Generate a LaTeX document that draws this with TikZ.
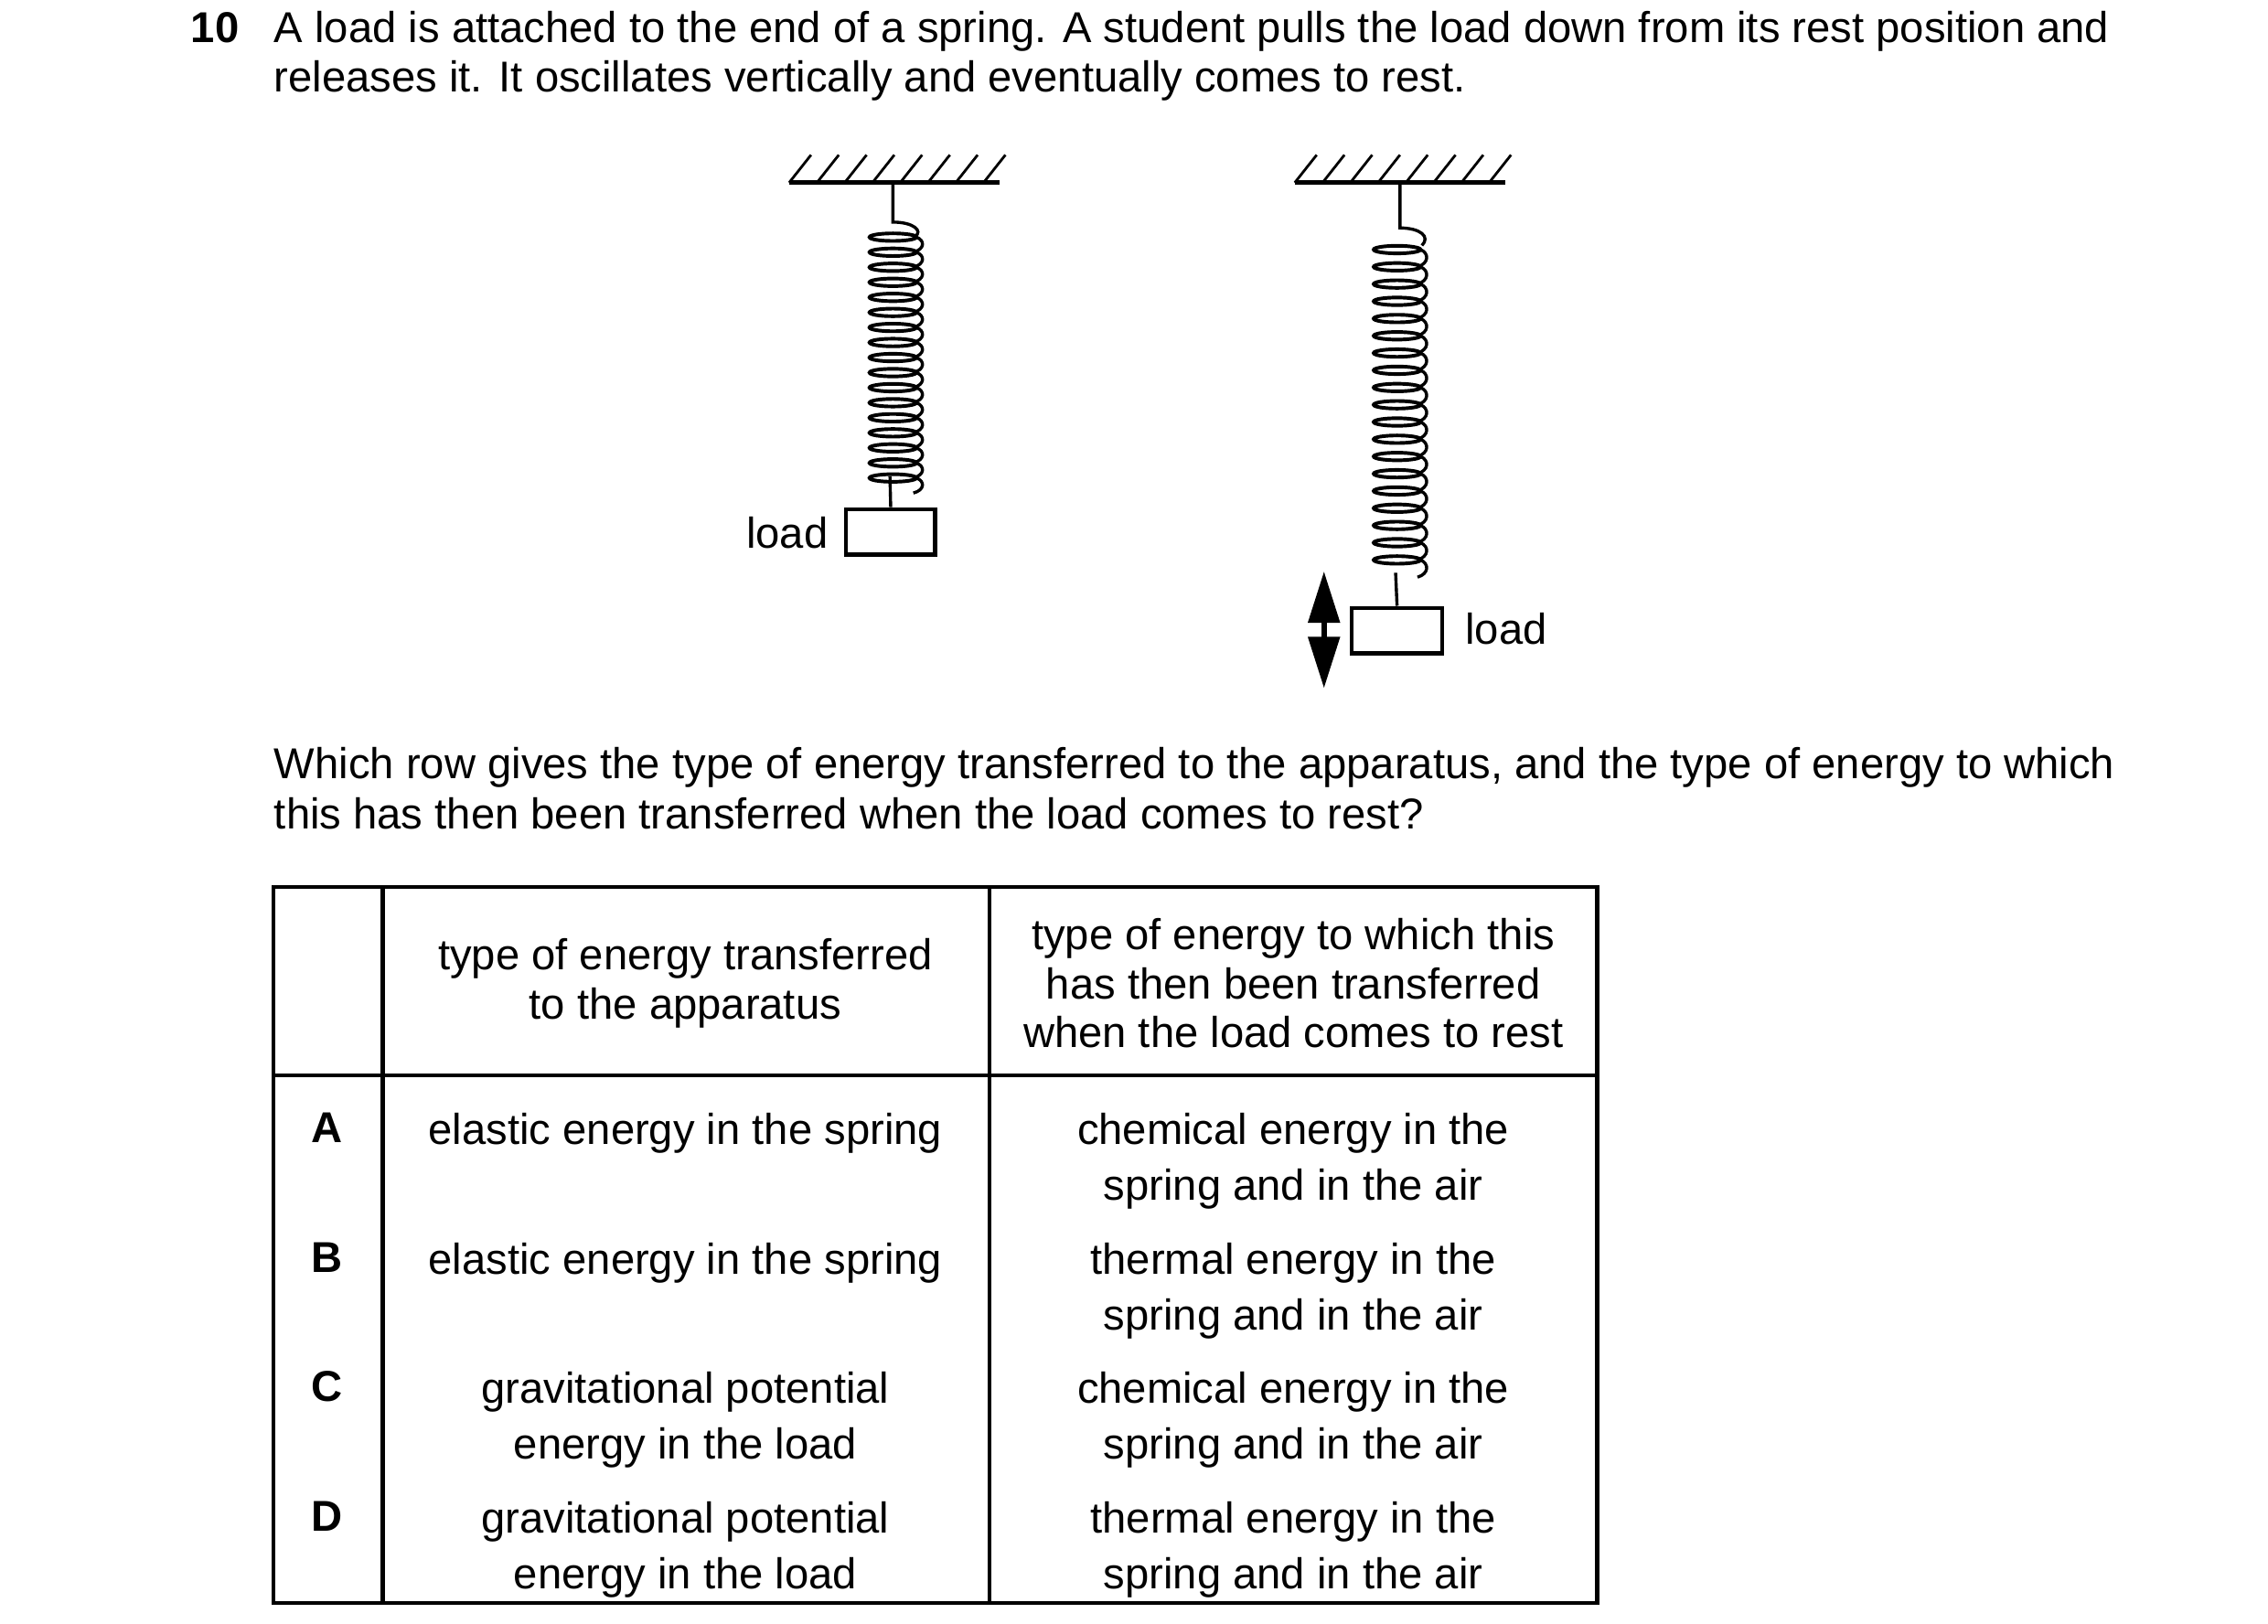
\documentclass[tikz,border=0pt]{standalone}
\usepackage{fontspec}
\setmainfont{Liberation Sans}
\usetikzlibrary{arrows.meta,positioning}
\tikzset{
  txt/.style={anchor=base west,inner sep=0pt,font=\fontsize{8.4}{9.7}\selectfont},
  cell/.style={align=center,inner sep=0pt,font=\fontsize{8.4}{10.9}\selectfont},
  head/.style={align=center,inner sep=0pt,font=\fontsize{8.4}{9.5}\selectfont},
  wire/.style={line width=0.6pt},
  loadbox/.style={draw,line width=0.8pt,minimum width=0.61cm,minimum height=0.31cm,inner sep=0pt},
}
% hatched ceiling, #1 = left end, #2 = right end
\newcommand{\ceiling}[2]{%
  \draw[line width=0.9pt] (#1,125) -- (#2,125);
  \foreach \h in {0,...,7}
    \draw[line width=0.5pt] (#1+\h*19,125) -- (#1+\h*19+15,106);
}
% spring of #3 loops, centre #1, top of coils #2, pitch #4
\newcommand{\coils}[4]{%
  \foreach \k in {1,...,#3}{
    \draw[line width=0.7pt] (#1,#2+\k*#4) ellipse [x radius=16,y radius=2.6];
    \draw[wire] (#1+16,#2+\k*#4) .. controls (#1+22,#2+\k*#4+#4*0.2) and (#1+22,#2+\k*#4+#4*0.8) .. (#1+14,#2+\k*#4+#4);
  }
}
\begin{document}
\begin{tikzpicture}[x=0.01cm,y=-0.01cm]
\useasboundingbox (0,0) rectangle (1552,1111);
% question text
\node[txt,font=\fontsize{8.4}{9.7}\selectfont\bfseries] (qnum) at (130,29) {10};
\node[txt] (q1) at (187,29) {A load is attached to the end of a spring. A student pulls the load down from its rest position and};
\node[txt] (q2) at (187,63) {releases it. It oscillates vertically and eventually comes to rest.};
% left spring
\ceiling{540}{684}
\coordinate (topL) at (611,125);
\coordinate (upL) at (611,152);
\draw[wire] (topL) -- (upL) .. controls (625,152) and (632,158) .. (626,162);
\coils{611}{152}{17}{10.3}
\node[loadbox] (loadL) at (609.5,364) {};
\coordinate (botL) at (609,326);
\draw[wire] (botL) -- (loadL.north);
\node[txt] (labL) at (510,375) {load};
% right spring
\ceiling{886}{1030}
\coordinate (topR) at (958,125);
\coordinate (upR) at (958,156);
\draw[wire] (topR) -- (upR) .. controls (972,156) and (979,162) .. (973,168);
\coils{956}{159}{19}{11.8}
\node[loadbox,minimum width=0.62cm] (loadR) at (956,431.5) {};
\coordinate (botR) at (955,392);
\draw[wire] (botR) -- (loadR.north);
\node[txt] (labR) at (1002,441) {load};
\coordinate (arrT) at (906,391);
\coordinate (arrB) at (906,471);
\draw[line width=1.1pt,{Triangle[width=6pt,length=10pt]}-{Triangle[width=6pt,length=10pt]}] (arrT) -- (arrB);
% second question
\node[txt] (w1) at (187,533) {Which row gives the type of energy transferred to the apparatus, and the type of energy to which};
\node[txt] (w2) at (187,567) {this has then been transferred when the load comes to rest?};
% table
\draw[line width=0.8pt] (187,607) rectangle (1093,1097);
\draw[line width=0.8pt] (187,736) -- (1093,736);
\draw[line width=0.8pt] (262,607) -- (262,1097);
\draw[line width=0.8pt] (677,607) -- (677,1097);
\node[head] (h2) at (469,673) {type of energy transferred\\to the apparatus};
\node[head] (h3) at (885,673) {type of energy to which this\\has then been transferred\\when the load comes to rest};
\foreach \lt/\y in {A/771,B/860,C/948,D/1037}
  \node[cell,font=\fontsize{8.4}{10.9}\selectfont\bfseries,anchor=north] (r\lt) at (224,\y-10) {\lt};
\node[cell,anchor=north] (a2) at (469,761) {elastic energy in the spring};
\node[cell,anchor=north] (a3) at (885,761) {chemical energy in the\\spring and in the air};
\node[cell,anchor=north] (b2) at (469,850) {elastic energy in the spring};
\node[cell,anchor=north] (b3) at (885,850) {thermal energy in the\\spring and in the air};
\node[cell,anchor=north] (c2) at (469,938) {gravitational potential\\energy in the load};
\node[cell,anchor=north] (c3) at (885,938) {chemical energy in the\\spring and in the air};
\node[cell,anchor=north] (d2) at (469,1027) {gravitational potential\\energy in the load};
\node[cell,anchor=north] (d3) at (885,1027) {thermal energy in the\\spring and in the air};
\end{tikzpicture}
\end{document}
